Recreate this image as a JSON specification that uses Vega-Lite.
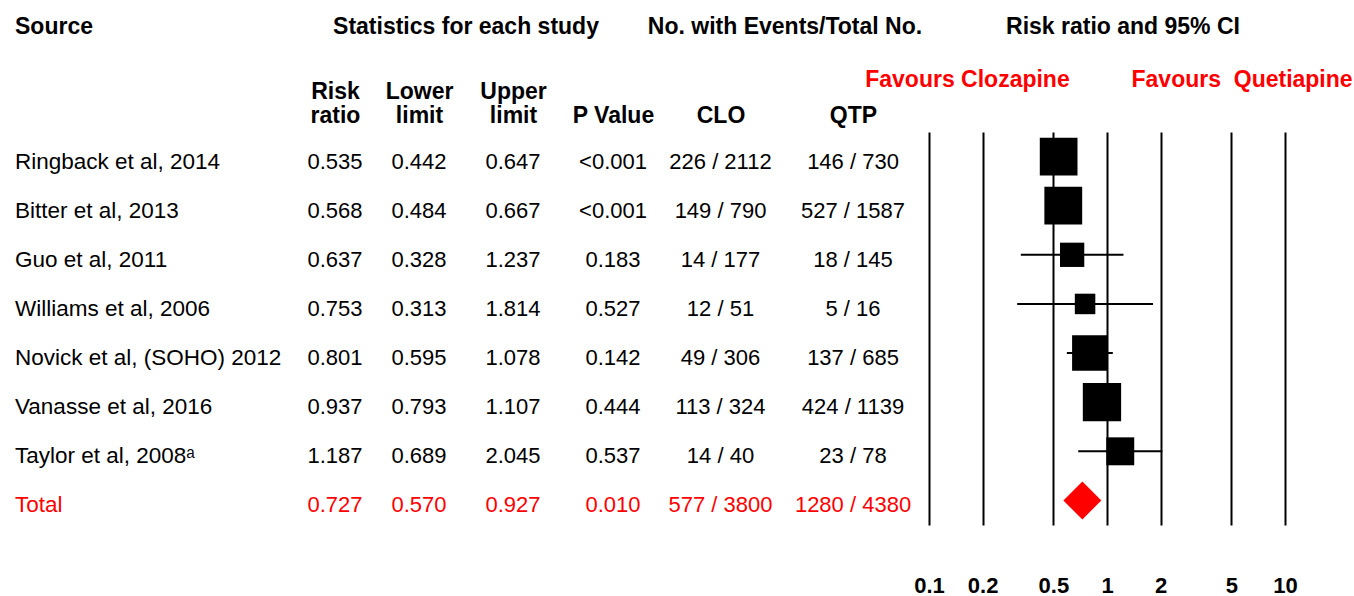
{
  "$schema": "https://vega.github.io/schema/vega-lite/v6.json",
  "background": "white",
  "padding": {"left": 15, "top": 16, "right": 0, "bottom": 0},
  "spacing": 0,
  "bounds": "flush",
  "config": {
    "view": {"stroke": null},
    "font": "Liberation Sans",
    "text": {"font": "Liberation Sans", "fontSize": 22},
    "title": {"font": "Liberation Sans", "fontSize": 23, "fontWeight": "bold", "color": "black", "frame": "group"},
    "axis": {
      "domain": false, "ticks": false, "tickSize": 0, "grid": false, "title": null,
      "labelFont": "Liberation Sans", "labelFontSize": 23, "labelFontWeight": "bold",
      "labelColor": "black", "labelAngle": 0, "labelLimit": 0, "labelFlush": false,
      "labelOverlap": false, "labelPadding": 5, "labelLineHeight": 24
    }
  },
  "data": {
    "values": [
      {"study": "Ringback et al, 2014", "rr": 0.535, "lower": 0.442, "upper": 0.647, "p": "<0.001", "clo": "226 / 2112", "qtp": "146 / 730", "weight": 19.3},
      {"study": "Bitter et al, 2013", "rr": 0.568, "lower": 0.484, "upper": 0.667, "p": "<0.001", "clo": "149 / 790", "qtp": "527 / 1587", "weight": 19.4},
      {"study": "Guo et al, 2011", "rr": 0.637, "lower": 0.328, "upper": 1.237, "p": "0.183", "clo": "14 / 177", "qtp": "18 / 145", "weight": 8.0},
      {"study": "Williams et al, 2006", "rr": 0.753, "lower": 0.313, "upper": 1.814, "p": "0.527", "clo": "12 / 51", "qtp": "5 / 16", "weight": 5.7},
      {"study": "Novick et al, (SOHO) 2012", "rr": 0.801, "lower": 0.595, "upper": 1.078, "p": "0.142", "clo": "49 / 306", "qtp": "137 / 685", "weight": 17.1},
      {"study": "Vanasse et al, 2016", "rr": 0.937, "lower": 0.793, "upper": 1.107, "p": "0.444", "clo": "113 / 324", "qtp": "424 / 1139", "weight": 19.9},
      {"study": "Taylor et al, 2008ᵃ", "rr": 1.187, "lower": 0.689, "upper": 2.045, "p": "0.537", "clo": "14 / 40", "qtp": "23 / 78", "weight": 10.6},
      {"study": "Total", "rr": 0.727, "lower": 0.570, "upper": 0.927, "p": "0.010", "clo": "577 / 3800", "qtp": "1280 / 4380", "weight": null}
    ]
  },
  "hconcat": [
    {
      "width": 281, "height": 393,
      "title": {"text": "Source", "anchor": "start", "offset": 93},
      "mark": {"type": "text", "align": "left", "baseline": "alphabetic", "dy": 12, "fontSize": 22.5},
      "encoding": {
        "x": {"datum": "Source", "type": "nominal", "bandPosition": 0, "scale": {"type": "band", "paddingInner": 0, "paddingOuter": 0}, "axis": null},
        "y": {"field": "study", "type": "nominal", "sort": null, "scale": {"paddingInner": 0, "paddingOuter": 0}, "axis": null},
        "text": {"field": "study"},
        "color": {"condition": {"test": "datum.study === 'Total'", "value": "#ff0000"}, "value": "black"}
      }
    },
    {
      "width": 78, "height": 393,
      "mark": {"type": "text", "baseline": "alphabetic", "dy": 12},
      "encoding": {
        "x": {"datum": "Risk ratio", "type": "nominal", "axis": {"orient": "top", "labelExpr": "split(datum.label, ' ')", "labelPadding": 29}},
        "y": {"field": "study", "type": "nominal", "sort": null, "scale": {"paddingInner": 0, "paddingOuter": 0}, "axis": null},
        "text": {"field": "rr", "format": ".3f"},
        "color": {"condition": {"test": "datum.study === 'Total'", "value": "#ff0000"}, "value": "black"}
      }
    },
    {
      "width": 90, "height": 393,
      "mark": {"type": "text", "baseline": "alphabetic", "dy": 12},
      "encoding": {
        "x": {"datum": "Lower limit", "type": "nominal", "axis": {"orient": "top", "labelExpr": "split(datum.label, ' ')", "labelPadding": 29}},
        "y": {"field": "study", "type": "nominal", "sort": null, "scale": {"paddingInner": 0, "paddingOuter": 0}, "axis": null},
        "text": {"field": "lower", "format": ".3f"},
        "color": {"condition": {"test": "datum.study === 'Total'", "value": "#ff0000"}, "value": "black"}
      }
    },
    {
      "width": 98, "height": 393,
      "title": {"text": "Statistics for each study", "dx": -47, "offset": 41},
      "mark": {"type": "text", "baseline": "alphabetic", "dy": 12},
      "encoding": {
        "x": {"datum": "Upper limit", "type": "nominal", "axis": {"orient": "top", "labelExpr": "split(datum.label, ' ')", "labelPadding": 29}},
        "y": {"field": "study", "type": "nominal", "sort": null, "scale": {"paddingInner": 0, "paddingOuter": 0}, "axis": null},
        "text": {"field": "upper", "format": ".3f"},
        "color": {"condition": {"test": "datum.study === 'Total'", "value": "#ff0000"}, "value": "black"}
      }
    },
    {
      "width": 102, "height": 393,
      "mark": {"type": "text", "baseline": "alphabetic", "dy": 12},
      "encoding": {
        "x": {"datum": "P Value", "type": "nominal", "axis": {"orient": "top"}},
        "y": {"field": "study", "type": "nominal", "sort": null, "scale": {"paddingInner": 0, "paddingOuter": 0}, "axis": null},
        "text": {"field": "p"},
        "color": {"condition": {"test": "datum.study === 'Total'", "value": "#ff0000"}, "value": "black"}
      }
    },
    {
      "width": 113, "height": 393,
      "mark": {"type": "text", "baseline": "alphabetic", "dy": 12},
      "encoding": {
        "x": {"datum": "CLO", "type": "nominal", "axis": {"orient": "top"}},
        "y": {"field": "study", "type": "nominal", "sort": null, "scale": {"paddingInner": 0, "paddingOuter": 0}, "axis": null},
        "text": {"field": "clo"},
        "color": {"condition": {"test": "datum.study === 'Total'", "value": "#ff0000"}, "value": "black"}
      }
    },
    {
      "width": 152, "height": 393,
      "title": {"text": "No. with Events/Total No.", "dx": -68, "offset": 65},
      "mark": {"type": "text", "baseline": "alphabetic", "dy": 12},
      "encoding": {
        "x": {"datum": "QTP", "type": "nominal", "axis": {"orient": "top"}},
        "y": {"field": "study", "type": "nominal", "sort": null, "scale": {"paddingInner": 0, "paddingOuter": 0}, "axis": null},
        "text": {"field": "qtp"},
        "color": {"condition": {"test": "datum.study === 'Total'", "value": "#ff0000"}, "value": "black"}
      }
    },
    {
      "width": 356, "height": 393,
      "title": {"text": "Risk ratio and 95% CI", "dx": 16, "offset": 29},
      "resolve": {"axis": {"x": "independent"}},
      "layer": [
        {
          "transform": [{"filter": "datum.study !== 'Total'"}],
          "mark": {"type": "rule", "color": "black", "strokeWidth": 2},
          "encoding": {
            "x": {
              "field": "lower", "type": "quantitative",
              "scale": {"type": "log", "domain": [0.1, 10], "nice": false},
              "axis": {
                "orient": "bottom", "values": [0.1, 0.2, 0.5, 1, 2, 5, 10], "format": "~g",
                "grid": true, "gridColor": "black", "gridWidth": 2, "gridOpacity": 1,
                "labelFontSize": 22, "labelPadding": 50
              }
            },
            "x2": {"field": "upper"},
            "y": {"field": "study", "type": "nominal", "sort": null, "scale": {"paddingInner": 0, "paddingOuter": 0}, "axis": null}
          }
        },
        {
          "transform": [{"filter": "datum.study !== 'Total'"}],
          "mark": {"type": "point", "shape": "square", "filled": true, "color": "black", "opacity": 1},
          "encoding": {
            "x": {
              "field": "rr", "type": "quantitative",
              "axis": {
                "orient": "top", "values": [0.1634, 5.7],
                "labelExpr": "datum.value < 1 ? 'Favours Clozapine' : 'Favours\u00a0 Quetiapine'",
                "labelColor": "#ff0000", "labelPadding": 41
              }
            },
            "y": {"field": "study", "type": "nominal", "sort": null},
            "size": {"field": "weight", "type": "quantitative", "scale": {"type": "linear", "domain": [0, 20], "range": [0, 1474]}, "legend": null}
          }
        },
        {
          "transform": [{"filter": "datum.study === 'Total'"}],
          "mark": {"type": "point", "shape": "diamond", "filled": true, "color": "#ff0000", "opacity": 1, "size": 1444},
          "encoding": {
            "x": {"field": "rr", "type": "quantitative", "axis": null},
            "y": {"field": "study", "type": "nominal", "sort": null}
          }
        }
      ]
    }
  ]
}
